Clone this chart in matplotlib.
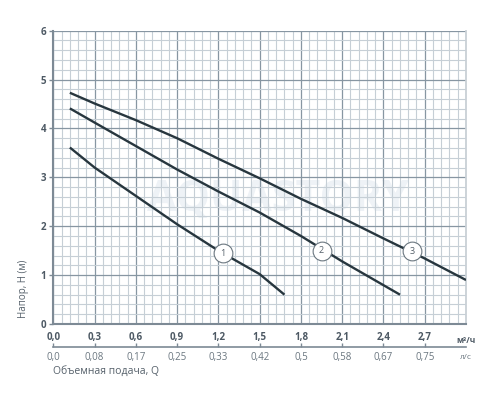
import matplotlib
matplotlib.use("Agg")
import matplotlib.pyplot as plt
import numpy as np
from matplotlib.ticker import MultipleLocator

plt.rcParams['font.family'] = ['Open Sans', 'DejaVu Sans']

# Data: flow Q (m3/h) vs head H (m)
q1 = [0.12, 0.3, 0.6, 0.9, 1.2, 1.5, 1.68]
h1 = [3.61, 3.2, 2.62, 2.04, 1.5, 1.02, 0.6]
q2 = [0.12, 0.3, 0.6, 0.9, 1.2, 1.5, 1.8, 2.1, 2.52]
h2 = [4.41, 4.12, 3.64, 3.16, 2.71, 2.28, 1.8, 1.28, 0.6]
q3 = [0.12, 0.3, 0.6, 0.9, 1.2, 1.5, 1.8, 2.1, 2.4, 2.7, 3.0]
h3 = [4.73, 4.51, 4.17, 3.8, 3.38, 2.98, 2.56, 2.17, 1.75, 1.34, 0.9]

curve_labels = ["1", "2", "3"]
label_q = [1.23, 1.95, 2.61]
label_h = [1.45, 1.5, 1.49]

x_ticks = [0.0, 0.3, 0.6, 0.9, 1.2, 1.5, 1.8, 2.1, 2.4, 2.7]
x_ticklabels = ["0,0", "0,3", "0,6", "0,9", "1,2", "1,5", "1,8", "2,1", "2,4", "2,7"]
ls_ticklabels = ["0,0", "0,08", "0,17", "0,25", "0,33", "0,42", "0,5", "0,58", "0,67", "0,75"]
y_ticks = [0, 1, 2, 3, 4, 5, 6]

fig = plt.figure(figsize=(5, 4), dpi=100)
ax = fig.add_axes([0.1067, 0.19, 0.8253, 0.7333])
ax.set_xlim(0, 3.0)
ax.set_ylim(0, 6)

major_c = "#8796a2"
minor_c = "#c6cfd6"
ax.xaxis.set_major_locator(MultipleLocator(0.3))
ax.xaxis.set_minor_locator(MultipleLocator(0.06))
ax.yaxis.set_major_locator(MultipleLocator(1))
ax.yaxis.set_minor_locator(MultipleLocator(0.2))
ax.grid(which="minor", color=minor_c, lw=0.8, zorder=0)
ax.grid(which="major", color=major_c, lw=0.9, zorder=0)
ax.set_axisbelow(True)

ax.text(1.63, 2.55, "AQUASTORY", fontsize=31, fontweight="bold",
        color="#eaeff4", ha="center", va="center", zorder=0.5, alpha=0.8)

line_c = "#27363e"
for q, h in [(q1, h1), (q2, h2), (q3, h3)]:
    ax.plot(q, h, color=line_c, lw=1.7, solid_capstyle="butt", solid_joinstyle="round", zorder=3)

for lab, lq, lh in zip(curve_labels, label_q, label_h):
    ax.plot([lq], [lh], marker="o", ms=13.5, mfc="white", mec="#6b7780", mew=0.8, zorder=4)
    ax.text(lq, lh, lab, fontsize=6.5, color="#55606a", ha="center", va="center", zorder=5)

ax.spines["top"].set_visible(False)
ax.spines["right"].set_color("#c9d0d6")
ax.spines["right"].set_linewidth(1.3)
ax.spines["left"].set_color("#7d8a95")
ax.spines["left"].set_linewidth(1.5)
ax.spines["bottom"].set_color("#7d8a95")
ax.spines["bottom"].set_linewidth(1.5)

tick_c = "#4d5964"
ax.set_yticks(y_ticks)
ax.set_yticklabels([str(v) for v in y_ticks], fontsize=7, fontweight="bold", color=tick_c)
ax.tick_params(axis="y", which="major", length=3, width=1, color="#7d8a95", pad=2)
ax.tick_params(axis="y", which="minor", length=0)
ax.set_xticks(x_ticks)
ax.set_xticklabels(x_ticklabels, fontsize=7, fontweight="bold", color=tick_c)
ax.tick_params(axis="x", which="both", length=0, pad=6)
ax.text(3.0, -0.33, "м³/ч", fontsize=6, fontweight="bold", color=tick_c,
        ha="center", va="center", clip_on=False)

ax.set_ylabel("Напор, H (м)", fontsize=7, color="#55606a", labelpad=6)
ax.yaxis.set_label_coords(-0.058, 0.12)

# secondary axis (l/s)
sec = ax.secondary_xaxis(location=-(346.7 - 324) / 293.3)
sec.set_xticks(x_ticks)
sec.set_xticklabels(ls_ticklabels, fontsize=7, color="#6b7780")
sec.tick_params(axis="x", direction="in", length=3, width=1, color="#7d8a95", pad=4)
sec.spines["bottom"].set_color("#7d8a95")
sec.spines["bottom"].set_linewidth(1.2)
ax.text(3.0, -(358 - 324) / 48.9, "л/с", fontsize=6,
        color="#6b7780", ha="center", va="center", clip_on=False)

fig.text(53.3 / 500, 1 - 371 / 400, "Объемная подача, Q", fontsize=7.5, color="#55606a",
         ha="left", va="center")

fig.savefig("out.png", dpi=100)
